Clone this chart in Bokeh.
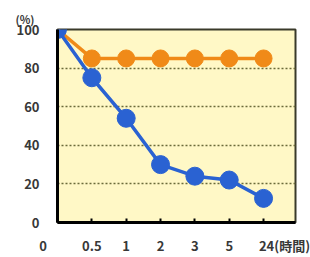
from bokeh.plotting import figure
from bokeh.models import FixedTicker, Range1d, Title
from bokeh.embed import file_html
from bokeh.resources import INLINE

x_labels = ["0", "0.5", "1", "2", "3", "5", "24"]
x_unit = "(時間)"
orange_vals = [100, 85, 85, 85, 85, 85, 85]
blue_vals = [100, 75, 54, 30, 24, 22, 12.5]
y_ticks = [0, 20, 40, 60, 80, 100]
y_unit = "(%)"

xs = list(range(len(x_labels)))

FONT = "Noto Sans CJK JP"
TXT = "#383838"
IDSP = "\u3000"
NBSP = "\u00a0"

p = figure(width=310, height=257, output_backend="svg", toolbar_location=None,
           x_range=Range1d(0, 6.93), y_range=Range1d(0, 100),
           min_border_left=57, min_border_right=15, min_border_top=29, min_border_bottom=35)
p.background_fill_color = "#fff8c6"
p.border_fill_color = "white"
p.outline_line_color = "#3a3a2a"
p.outline_line_width = 2

p.title = Title(text=y_unit, align="left", offset=-42, text_font=FONT, text_font_size="11px",
                text_font_style="bold", text_color=TXT, standoff=6)

p.xgrid.visible = False
p.ygrid.grid_line_color = "#6b6b3a"
p.ygrid.grid_line_dash = "2 2"
p.ygrid.grid_line_width = 1.5

p.yaxis.ticker = FixedTicker(ticks=y_ticks)
p.yaxis.axis_line_color = "black"
p.yaxis.axis_line_width = 3
p.yaxis.major_tick_line_color = None
p.yaxis.minor_tick_line_color = None
p.yaxis.major_label_standoff = 12
p.yaxis.major_label_text_font = FONT
p.yaxis.major_label_text_font_size = "13px"
p.yaxis.major_label_text_font_style = "bold"
p.yaxis.major_label_text_color = TXT

# tick labels: the "0" sits left of the axis, the "24" carries the unit to its right
overrides = {i: x_labels[i] for i in xs}
overrides[0] = x_labels[0] + IDSP * 2 + NBSP
overrides[6] = IDSP * 3 + NBSP + x_labels[6] + x_unit
p.xaxis.ticker = FixedTicker(ticks=xs)
p.xaxis.major_label_overrides = overrides
p.xaxis.axis_line_color = "black"
p.xaxis.axis_line_width = 3
p.xaxis.major_tick_in = 4
p.xaxis.major_tick_out = 0
p.xaxis.major_tick_line_color = "black"
p.xaxis.major_tick_line_width = 2
p.xaxis.minor_tick_line_color = None
p.xaxis.major_label_standoff = 13
p.xaxis.major_label_text_font = FONT
p.xaxis.major_label_text_font_size = "13px"
p.xaxis.major_label_text_font_style = "bold"
p.xaxis.major_label_text_color = TXT

orange = "#f08a18"
blue = "#2a62d2"
p.line(xs, orange_vals, line_color=orange, line_width=3.5)
p.scatter(xs[1:], orange_vals[1:], size=17, fill_color=orange, line_color=orange)
p.line(xs, blue_vals, line_color=blue, line_width=3.5)
p.scatter(xs, blue_vals, size=18, fill_color=blue, line_color=blue)

open("out.html", "w").write(file_html(p, INLINE))
